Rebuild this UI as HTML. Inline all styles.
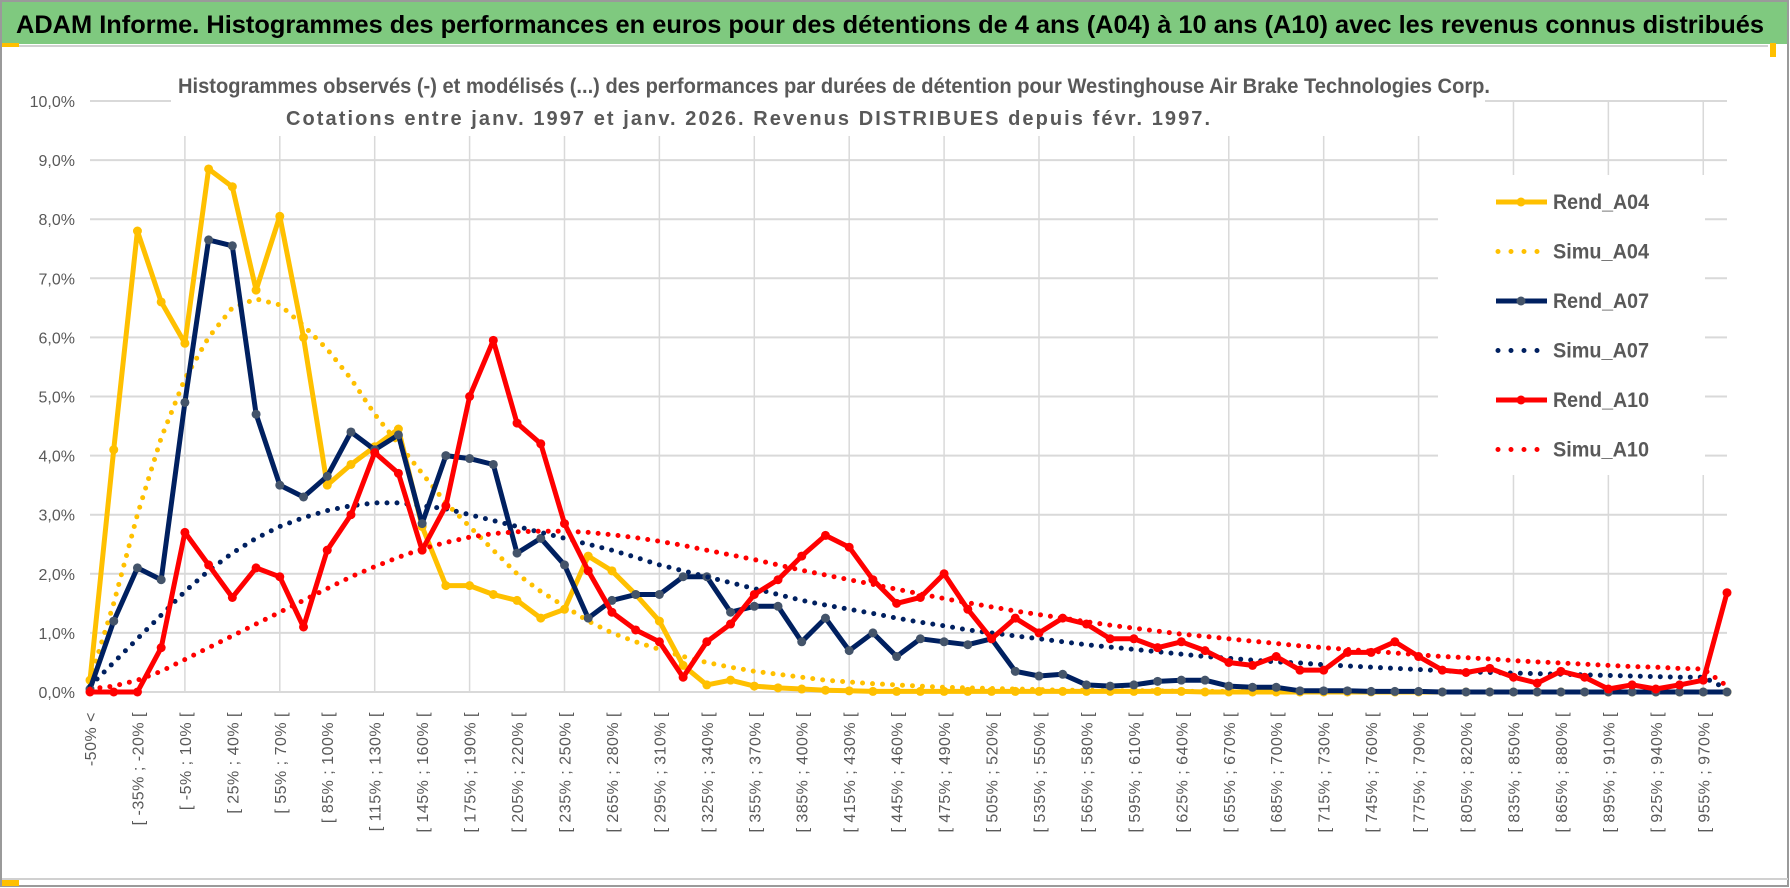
<!DOCTYPE html>
<html><head><meta charset="utf-8"><style>
html,body{margin:0;padding:0;background:#fff;}
svg{display:block;font-family:"Liberation Sans Narrow","Liberation Sans",sans-serif;}
</style></head><body>
<svg id="chart" width="1790" height="888" viewBox="0 0 1790 888" xmlns="http://www.w3.org/2000/svg">
<rect x="0" y="0" width="1790" height="888" fill="#fff"/>
<rect x="1" y="1" width="1787" height="885" fill="none" stroke="#9a9a9a" stroke-width="2"/>
<rect x="2" y="2" width="1785" height="42" fill="#7fc97f"/>
<line x1="2" y1="46" x2="1768" y2="46" stroke="#d0d0d0" stroke-width="2"/>
<rect x="2" y="43" width="17" height="4" fill="#ffc000"/>
<rect x="1770" y="43" width="6" height="14" fill="#ffc000"/>
<text x="16" y="33" font-size="25" font-weight="bold" fill="#000" textLength="1748" lengthAdjust="spacingAndGlyphs">ADAM Informe. Histogrammes des performances en euros pour des détentions de 4 ans (A04) à 10 ans (A10) avec les revenus connus distribués</text>
<line x1="2" y1="879" x2="1788" y2="879" stroke="#d0d0d0" stroke-width="2"/>
<rect x="2" y="880" width="17" height="6" fill="#ffc000"/>
<g id="grid"></g>
<g id="ylabels"></g>
<g id="xlabels"></g>
<rect x="171" y="98" width="1314" height="38" fill="#fff"/>
<text x="834" y="93" font-size="21" font-weight="bold" fill="#595959" text-anchor="middle" textLength="1312" lengthAdjust="spacingAndGlyphs">Histogrammes observés (-) et modélisés (...) des performances par durées de détention pour Westinghouse Air Brake Technologies Corp.</text>
<text x="748" y="125" font-size="20" font-weight="bold" fill="#595959" text-anchor="middle" textLength="924" lengthAdjust="spacing">Cotations entre janv. 1997 et janv. 2026. Revenus DISTRIBUES depuis févr. 1997.</text>
<rect x="1438" y="175" width="267" height="300" fill="#fff"/>
<g id="series"></g>
<g id="legend"></g>
</svg>
<script>
const rendA04 = [0.2,4.1,7.8,6.6,5.9,8.85,8.55,6.8,8.05,6.0,3.5,3.85,4.15,4.45,2.8,1.8,1.8,1.65,1.55,1.25,1.4,2.3,2.05,1.65,1.2,0.45,0.12,0.2,0.1,0.07,0.05,0.03,0.02,0.01,0.01,0.01,0.01,0.01,0.01,0.01,0.01,0.01,0.01,0.01,0.01,0.01,0.01,0,0,0,0,0,0,0,0,0,0,0,0,0,0,0,0,0,0,0,0,0,0,0];
const simuA04 = [0.2,1.5,3.0,4.3,5.3,6.0,6.5,6.65,6.55,6.2,5.8,5.3,4.7,4.2,3.7,3.2,2.8,2.4,2.0,1.7,1.45,1.2,1.0,0.85,0.72,0.6,0.5,0.42,0.35,0.3,0.25,0.2,0.17,0.14,0.12,0.1,0.08,0.07,0.06,0.05,0.04,0.03,0.03,0.02,0.02,0.02,0.01,0.01,0.01,0.01,0.01,0,0,0,0,0,0,0,0,0,0,0,0,0,0,0,0,0,0,0];
const rendA07 = [0.05,1.2,2.1,1.9,4.9,7.65,7.55,4.7,3.5,3.3,3.65,4.4,4.1,4.35,2.85,4.0,3.95,3.85,2.35,2.6,2.15,1.25,1.55,1.65,1.65,1.95,1.95,1.35,1.45,1.45,0.85,1.25,0.7,1.0,0.6,0.9,0.85,0.8,0.9,0.35,0.27,0.3,0.12,0.1,0.12,0.18,0.2,0.2,0.1,0.08,0.08,0.02,0.02,0.02,0.01,0.01,0.01,0,0,0,0,0,0,0,0,0,0,0,0,0];
const simuA07 = [0.1,0.5,0.9,1.3,1.7,2.05,2.35,2.6,2.8,2.95,3.07,3.15,3.2,3.2,3.15,3.1,3.0,2.9,2.8,2.7,2.6,2.5,2.4,2.28,2.15,2.05,1.95,1.85,1.75,1.65,1.55,1.47,1.4,1.33,1.25,1.18,1.12,1.05,1.0,0.95,0.9,0.85,0.8,0.76,0.72,0.68,0.64,0.6,0.57,0.54,0.51,0.49,0.46,0.44,0.42,0.4,0.38,0.36,0.34,0.33,0.32,0.31,0.3,0.29,0.28,0.27,0.26,0.25,0.25,0.05];
const rendA10 = [0,0,0,0.75,2.7,2.15,1.6,2.1,1.95,1.1,2.4,3.0,4.05,3.7,2.4,3.15,5.0,5.95,4.55,4.2,2.85,2.05,1.35,1.05,0.85,0.25,0.85,1.15,1.65,1.9,2.3,2.65,2.45,1.9,1.5,1.6,2.0,1.4,0.9,1.25,1.0,1.25,1.15,0.9,0.9,0.75,0.85,0.7,0.5,0.45,0.6,0.37,0.37,0.67,0.67,0.85,0.6,0.37,0.33,0.4,0.25,0.15,0.35,0.25,0.05,0.12,0.05,0.12,0.2,1.68];
const simuA10 = [0.05,0.1,0.2,0.35,0.55,0.75,0.95,1.15,1.35,1.55,1.75,1.95,2.12,2.28,2.42,2.53,2.62,2.68,2.71,2.72,2.72,2.7,2.66,2.61,2.55,2.48,2.4,2.32,2.24,2.15,2.06,1.98,1.9,1.82,1.74,1.66,1.58,1.51,1.44,1.37,1.31,1.25,1.19,1.13,1.08,1.03,0.98,0.94,0.9,0.86,0.82,0.78,0.75,0.72,0.69,0.66,0.63,0.6,0.58,0.56,0.53,0.51,0.49,0.47,0.45,0.43,0.42,0.4,0.39,0.1];
const yTicks = ["0,0%","1,0%","2,0%","3,0%","4,0%","5,0%","6,0%","7,0%","8,0%","9,0%","10,0%"];
const binStart = -50;
const binStep = 15;
const nCats = 70;

const NS = "http://www.w3.org/2000/svg";
const X0 = 90, X1 = 1727, Y0 = 692, YTOP = 101, YMAX = 10;
function xs(i){ return X0 + (X1 - X0) * i / (nCats - 1); }
function ys(v){ return Y0 - (Y0 - YTOP) * v / YMAX; }
function mk(tag, attrs, parent){ const e = document.createElementNS(NS, tag); for (const k in attrs) e.setAttribute(k, attrs[k]); parent.appendChild(e); return e; }

const categories = [];
for (let k = 0; k < nCats; k++) {
  if (k === 0) categories.push(binStart + "% <");
  else { const a = binStart + binStep * (k - 1); categories.push("[ " + a + "% ; " + (a + binStep) + "% ["); }
}

const grid = document.getElementById('grid');
yTicks.forEach((t, i) => {
  const l = mk('line', {x1: X0, x2: X1, y1: ys(i), y2: ys(i), stroke: '#d9d9d9', 'stroke-width': 2}, grid);
  
  
  const tx = mk('text', {x: 75, y: ys(i) + 6, 'font-size': 16, fill: '#595959', 'text-anchor': 'end'}, document.getElementById('ylabels'));
  tx.textContent = t;
  
  
});
for (let k = 4; k < nCats; k += 4) {
  const l = mk('line', {x1: xs(k), x2: xs(k), y1: YTOP, y2: Y0, stroke: '#d9d9d9', 'stroke-width': 1.5}, grid);
  
  
}
for (let k = 0; k < nCats; k += 2) {
  const x = xs(k) + 6, y = 712;
  const tx = mk('text', {x: x, y: y, 'font-size': 16, fill: '#595959', 'text-anchor': 'end', 'font-family': '"Liberation Sans", sans-serif', 'letter-spacing': '0.5', transform: 'rotate(-90 ' + x + ' ' + y + ')'}, document.getElementById('xlabels'));
  tx.textContent = categories[k];
  
  
}

const sg = document.getElementById('series');
function solid(vals, color, mcolor, name){
  const g = mk('g', {}, sg);
  
  
  const pts = vals.map((v, i) => xs(i).toFixed(1) + ',' + ys(v).toFixed(1)).join(' ');
  const pl = mk('polyline', {points: pts, fill: 'none', stroke: color, 'stroke-width': 5, 'stroke-linejoin': 'round'}, g);
  
  
  vals.forEach((v, i) => {
    const c = mk('circle', {cx: xs(i), cy: ys(v), r: 4.5, fill: mcolor}, g);
    
    
  });
}
function dotted(vals, color, name){
  const pts = vals.map((v, i) => xs(i).toFixed(1) + ',' + ys(v).toFixed(1)).join(' ');
  const pl = mk('polyline', {points: pts, fill: 'none', stroke: color, 'stroke-width': 5, 'stroke-linecap': 'round', 'stroke-dasharray': '0 10'}, sg);
  
  
}
solid(rendA04, '#ffc000', '#ffc000', 'rend-a04');
dotted(simuA04, '#ffc000', 'simu-a04');
solid(rendA07, '#002060', '#44546a', 'rend-a07');
dotted(simuA07, '#002060', 'simu-a07');
solid(rendA10, '#ff0000', '#ff0000', 'rend-a10');
dotted(simuA10, '#ff0000', 'simu-a10');

const lg = document.getElementById('legend');
const entries = [['Rend_A04','#ffc000','#ffc000',false],['Simu_A04','#ffc000',null,true],['Rend_A07','#002060','#44546a',false],['Simu_A07','#002060',null,true],['Rend_A10','#ff0000','#ff0000',false],['Simu_A10','#ff0000',null,true]];
entries.forEach((e, i) => {
  const y = 202 + i * 49.5;
  const g = mk('g', {}, lg);
  
  
  if (e[3]) mk('line', {x1: 1498, x2: 1546, y1: y, y2: y, stroke: e[1], 'stroke-width': 5, 'stroke-linecap': 'round', 'stroke-dasharray': '0 13'}, g);
  else { mk('line', {x1: 1496, x2: 1547, y1: y, y2: y, stroke: e[1], 'stroke-width': 5}, g); mk('circle', {cx: 1521, cy: y, r: 4.5, fill: e[2]}, g); }
  const t = mk('text', {x: 1553, y: y + 7, 'font-size': 21, 'font-weight': 'bold', fill: '#595959', textLength: 96, lengthAdjust: 'spacingAndGlyphs'}, g);
  t.textContent = e[0];
});
</script>
</body></html>
